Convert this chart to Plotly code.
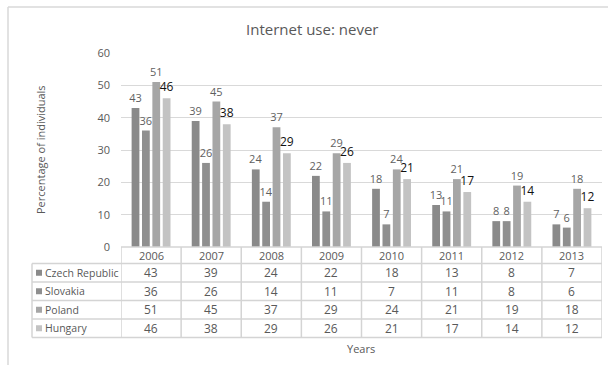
import plotly.graph_objects as go

# ---- data -------------------------------------------------------------
years = ["2006", "2007", "2008", "2009", "2010", "2011", "2012", "2013"]
countries = ["Czech Republic", "Slovakia", "Poland", "Hungary"]
czech = [43, 39, 24, 22, 18, 13, 8, 7]
slovakia = [36, 26, 14, 11, 7, 11, 8, 6]
poland = [51, 45, 37, 29, 24, 21, 19, 18]
hungary = [46, 38, 29, 26, 21, 17, 14, 12]
y_ticks = [0, 10, 20, 30, 40, 50, 60]

series = [czech, slovakia, poland, hungary]
colors = ["#8a8a8a", "#8f8f8f", "#a6a6a6", "#c3c3c3"]
label_colors = ["#5f5f5f", "#5f5f5f", "#5f5f5f", "#111111"]
label_sizes = [11, 11, 11, 12]

W, H = 608, 365
FONT = "Open Sans"
GRID = "#d9d9d9"
TEXT = "#595959"


def px(x):
    return x / W


def py(y):
    return 1 - y / H


x_left, x_right = 121, 602
y_zero, y_top = 247, 53

fig = go.Figure()
for name, vals, col, lcol, lsz in zip(countries, series, colors, label_colors, label_sizes):
    fig.add_trace(go.Bar(
        x=years, y=vals, name=name,
        marker=dict(color=col, line=dict(width=0)),
        text=[str(v) for v in vals], textposition="outside",
        textfont=dict(family=FONT, size=lsz, color=lcol),
        constraintext="none", cliponaxis=False,
    ))

shapes = []
annotations = []


def note(x, y, text, size, color=TEXT, xref="paper", xanchor="center", angle=0):
    annotations.append(dict(x=x, y=y, xref=xref, yref="paper", text=text,
                            xanchor=xanchor, yanchor="middle", textangle=angle,
                            showarrow=False, font=dict(family=FONT, size=size, color=color)))


# outer chart frame (top and left edges)
shapes.append(dict(type="line", xref="paper", yref="paper", x0=px(8), x1=1.0,
                   y0=py(7), y1=py(7), line=dict(color=GRID, width=1.5)))
shapes.append(dict(type="line", xref="paper", yref="paper", x0=px(8), x1=px(8),
                   y0=py(7), y1=0, line=dict(color=GRID, width=1.5)))

# data table below the plot
row_lines = [247, 263.5, 282, 300.5, 319, 337.5]
row_centers = [(row_lines[i] + row_lines[i + 1]) / 2 for i in range(len(row_lines) - 1)]
tab_left = 32
TAB = "#d4d4d4"
for i, yl in enumerate(row_lines):
    x0 = x_left if i == 0 else tab_left
    shapes.append(dict(type="line", xref="paper", yref="paper", x0=px(x0), x1=px(x_right),
                       y0=py(yl), y1=py(yl), line=dict(color=TAB, width=1.5)))
for k in range(len(years) + 1):
    shapes.append(dict(type="line", xref="x", yref="paper", x0=k - 0.5, x1=k - 0.5,
                       y0=py(row_lines[0]), y1=py(row_lines[-1]), line=dict(color=TAB, width=1.5)))
shapes.append(dict(type="line", xref="paper", yref="paper", x0=px(tab_left), x1=px(tab_left),
                   y0=py(row_lines[1]), y1=py(row_lines[-1]), line=dict(color=TAB, width=1.5)))

# header row: category names (placed by category index on the x axis)
for i, yr in enumerate(years):
    note(i, py(row_centers[0]), yr, 11, xref="x")

# value rows with legend keys
for r, (name, vals, col) in enumerate(zip(countries, series, colors)):
    yc = row_centers[r + 1]
    shapes.append(dict(type="rect", xref="paper", yref="paper", x0=px(36), x1=px(42),
                       y0=py(yc + 3), y1=py(yc - 3), fillcolor=col, line=dict(width=0)))
    note(px(43), py(yc), name, 10.5, xanchor="left")
    for i, v in enumerate(vals):
        note(i, py(yc), str(v), 12, xref="x")

# titles
note(px(312), py(29), "Internet use: never", 15)
note(px(361), py(348), "Years", 11)
note(px(40), py(150), "Percentage of individuals", 11, angle=-90)

fig.update_layout(
    width=W, height=H,
    margin=dict(l=0, r=0, t=0, b=0, pad=0, autoexpand=False),
    paper_bgcolor="white", plot_bgcolor="white",
    barmode="group", bargap=0.31, bargroupgap=0.25,
    showlegend=False,
    font=dict(family=FONT, color=TEXT),
    xaxis=dict(domain=[px(x_left), px(x_right)], type="category", range=[-0.5, 7.5],
               automargin=False,
               showticklabels=False, showgrid=False, zeroline=False, showline=False, ticks=""),
    yaxis=dict(domain=[py(y_zero), py(y_top)], range=[0, 60], tickvals=y_ticks,
               automargin=False,
               showgrid=True, gridcolor=GRID, gridwidth=1, zeroline=False, showline=False,
               ticks="", ticklabelstandoff=10,
               tickfont=dict(family=FONT, size=11, color=TEXT)),
    shapes=shapes, annotations=annotations,
)

fig.write_html("out.html")
